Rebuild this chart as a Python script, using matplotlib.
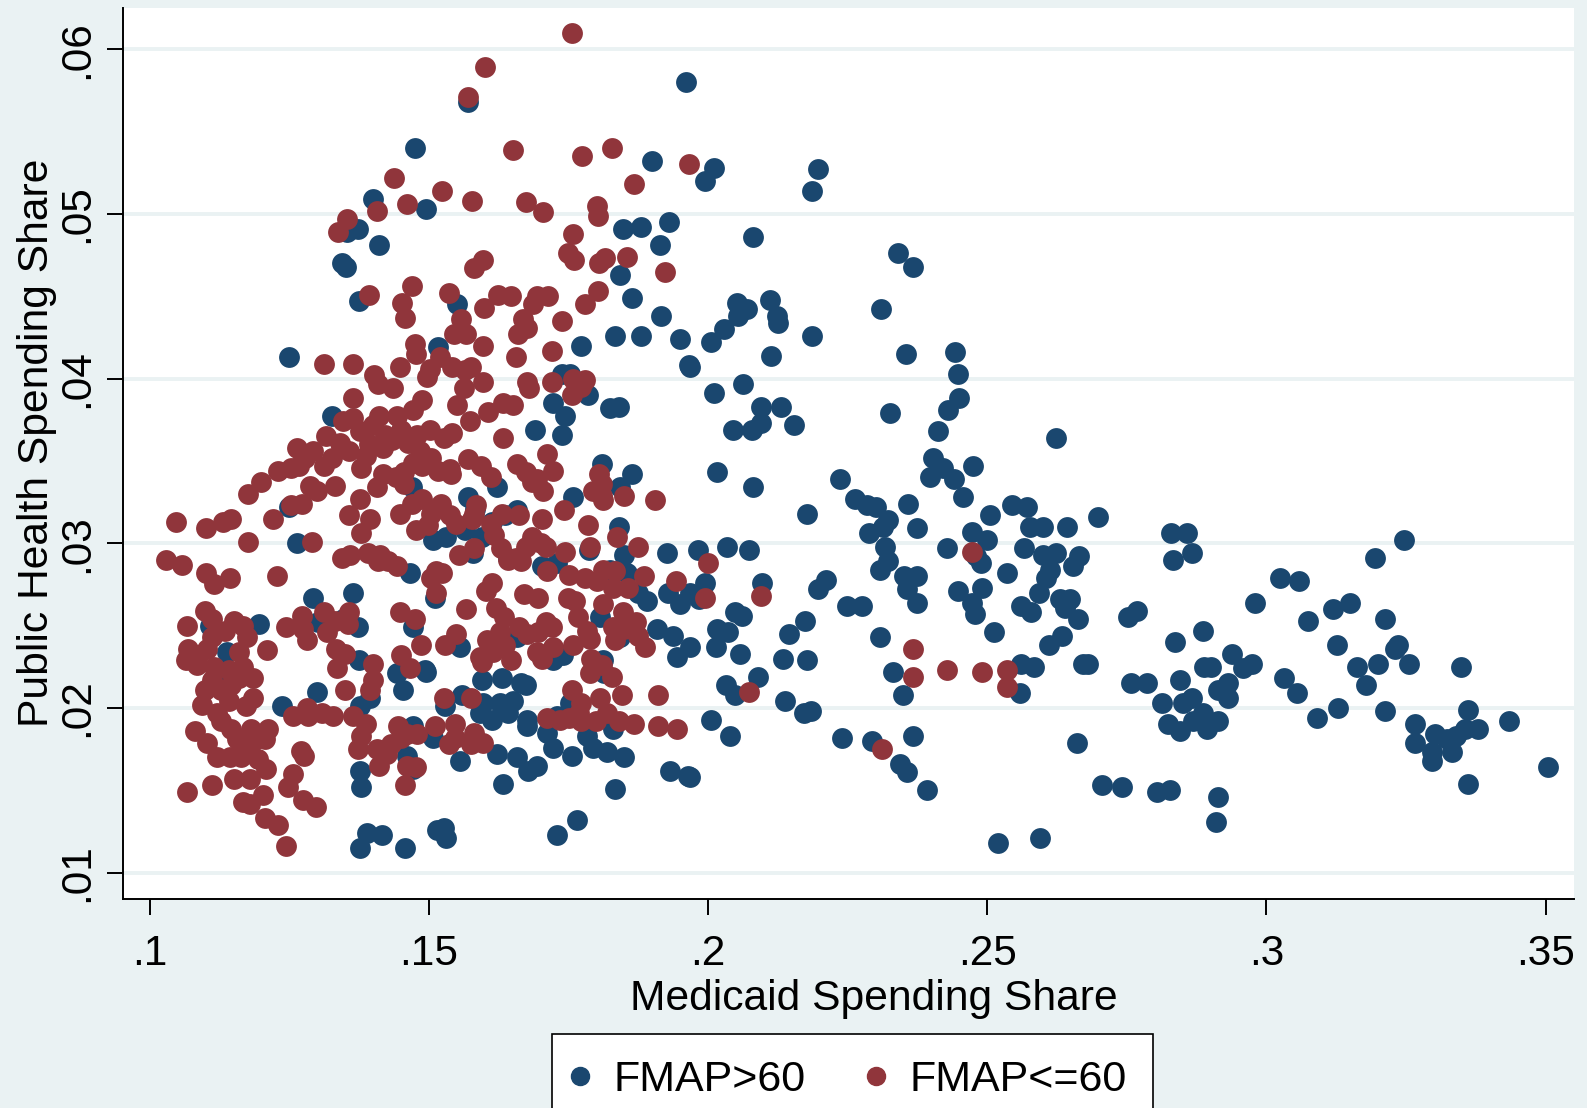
import numpy as np
import matplotlib
matplotlib.use('Agg')
import matplotlib.pyplot as plt
from matplotlib.lines import Line2D

# (medicaid share, public health share)
fmap_high = [
    (0.196, 0.0580), (0.157, 0.0568), (0.1475, 0.0540), (0.1495, 0.0503), (0.1400, 0.0509),
    (0.1410, 0.0481), (0.1354, 0.0489), (0.1373, 0.0491), (0.1344, 0.0470), (0.1352, 0.0468),
    (0.1374, 0.0447), (0.1899, 0.0532), (0.2010, 0.0528), (0.1995, 0.0520), (0.2197, 0.0527),
    (0.2186, 0.0514), (0.1847, 0.0491), (0.1880, 0.0492), (0.1930, 0.0495), (0.1914, 0.0481),
    (0.2080, 0.0486), (0.1843, 0.0463), (0.1863, 0.0449), (0.1916, 0.0438), (0.1834, 0.0426),
    (0.1880, 0.0426), (0.1950, 0.0424), (0.1965, 0.0408), (0.2028, 0.0430), (0.2006, 0.0422),
    (0.2051, 0.0446), (0.2069, 0.0442), (0.2053, 0.0438), (0.2110, 0.0448), (0.2124, 0.0438),
    (0.2126, 0.0434), (0.2113, 0.0414), (0.2186, 0.0426), (0.1968, 0.0407), (0.2011, 0.0391),
    (0.2062, 0.0397), (0.2095, 0.0383), (0.2130, 0.0383), (0.2044, 0.0369), (0.2079, 0.0369),
    (0.2095, 0.0373), (0.2153, 0.0372), (0.2015, 0.0343), (0.2080, 0.0334), (0.2340, 0.0476),
    (0.2367, 0.0468), (0.2309, 0.0442), (0.2354, 0.0415), (0.2325, 0.0379), (0.2443, 0.0416),
    (0.2448, 0.0403), (0.2450, 0.0388), (0.2430, 0.0381), (0.2412, 0.0368), (0.2403, 0.0352),
    (0.2421, 0.0346), (0.2398, 0.0340), (0.2440, 0.0339), (0.2456, 0.0328), (0.2474, 0.0347),
    (0.2624, 0.0364), (0.2236, 0.0339), (0.2263, 0.0327), (0.2284, 0.0323), (0.2301, 0.0322),
    (0.2323, 0.0314), (0.2358, 0.0324), (0.2177, 0.0318), (0.2289, 0.0306), (0.2313, 0.0310),
    (0.2374, 0.0309), (0.2316, 0.0298), (0.2323, 0.0289), (0.2307, 0.0284), (0.2350, 0.0280),
    (0.2374, 0.0280), (0.2357, 0.0272), (0.2374, 0.0264), (0.2427, 0.0297), (0.2472, 0.0307),
    (0.2499, 0.0302), (0.2505, 0.0317), (0.2480, 0.0292), (0.2488, 0.0288), (0.2490, 0.0273),
    (0.2447, 0.0271), (0.2472, 0.0264), (0.2478, 0.0257), (0.2536, 0.0282), (0.2512, 0.0246),
    (0.2545, 0.0323), (0.2572, 0.0322), (0.2577, 0.0310), (0.2599, 0.0310), (0.2643, 0.0310),
    (0.2565, 0.0297), (0.2599, 0.0293), (0.2624, 0.0294), (0.2664, 0.0292), (0.2653, 0.0286),
    (0.2612, 0.0284), (0.2606, 0.0279), (0.2592, 0.0270), (0.2561, 0.0262), (0.2579, 0.0258),
    (0.2630, 0.0266), (0.2648, 0.0266), (0.2639, 0.0261), (0.2663, 0.0254), (0.2610, 0.0238),
    (0.2634, 0.0244), (0.2561, 0.0227), (0.2584, 0.0225), (0.2559, 0.0209), (0.2672, 0.0227),
    (0.2680, 0.0227), (0.2661, 0.0179), (0.2699, 0.0316), (0.2706, 0.0153), (0.2741, 0.0152),
    (0.2753, 0.0255), (0.2768, 0.0259), (0.2757, 0.0215), (0.2786, 0.0215), (0.2804, 0.0149),
    (0.2827, 0.0150), (0.2829, 0.0306), (0.2857, 0.0306), (0.2867, 0.0294), (0.2833, 0.0290),
    (0.2836, 0.0240), (0.2887, 0.0247), (0.2813, 0.0203), (0.2824, 0.0190), (0.2846, 0.0186),
    (0.2869, 0.0192), (0.2894, 0.0187), (0.2913, 0.0192), (0.2887, 0.0197), (0.2851, 0.0203),
    (0.2867, 0.0206), (0.2913, 0.0211), (0.2931, 0.0206), (0.2846, 0.0217), (0.2900, 0.0225),
    (0.2888, 0.0225), (0.2931, 0.0215), (0.2938, 0.0233), (0.2958, 0.0224), (0.2974, 0.0227),
    (0.2913, 0.0146), (0.2910, 0.0131), (0.2980, 0.0264), (0.3024, 0.0279), (0.3058, 0.0277),
    (0.3031, 0.0218), (0.3055, 0.0209), (0.3090, 0.0194), (0.3074, 0.0253), (0.3119, 0.0260),
    (0.3150, 0.0264), (0.3127, 0.0238), (0.3163, 0.0225), (0.3178, 0.0214), (0.3129, 0.0200),
    (0.3194, 0.0291), (0.3246, 0.0302), (0.3213, 0.0254), (0.3230, 0.0236), (0.3235, 0.0238),
    (0.3200, 0.0227), (0.3255, 0.0227), (0.3213, 0.0198), (0.3266, 0.0190), (0.3266, 0.0179),
    (0.3302, 0.0184), (0.3297, 0.0173), (0.3297, 0.0168), (0.3324, 0.0181), (0.3340, 0.0183),
    (0.3333, 0.0173), (0.3355, 0.0187), (0.3348, 0.0225), (0.3362, 0.0199), (0.3379, 0.0187),
    (0.3362, 0.0154), (0.3434, 0.0192), (0.3504, 0.0164),
    (0.1250, 0.0413), (0.1326, 0.0377), (0.1263, 0.0300), (0.1250, 0.0322), (0.1196, 0.0251),
    (0.1292, 0.0267), (0.1301, 0.0252), (0.1300, 0.0210), (0.1237, 0.0201), (0.1364, 0.0270),
    (0.1346, 0.0254), (0.1373, 0.0249), (0.1375, 0.0229), (0.1108, 0.0250), (0.1138, 0.0234),
    (0.1134, 0.0223), (0.1377, 0.0201), (0.1395, 0.0206), (0.1466, 0.0282), (0.1511, 0.0267),
    (0.1472, 0.0249), (0.1493, 0.0223), (0.1442, 0.0221), (0.1453, 0.0211), (0.1472, 0.0189),
    (0.1508, 0.0182), (0.1460, 0.0171), (0.1472, 0.0163), (0.1377, 0.0162), (0.1379, 0.0152),
    (0.1389, 0.0124), (0.1416, 0.0123), (0.1377, 0.0115), (0.1457, 0.0115), (0.1515, 0.0126),
    (0.1526, 0.0127), (0.1531, 0.0121), (0.1469, 0.0334), (0.1507, 0.0302), (0.1517, 0.0419),
    (0.1551, 0.0445), (0.1773, 0.0420), (0.1738, 0.0403), (0.1752, 0.0403), (0.1785, 0.0390),
    (0.1723, 0.0385), (0.1743, 0.0377), (0.1738, 0.0366), (0.1690, 0.0369), (0.1825, 0.0382),
    (0.1841, 0.0383), (0.1810, 0.0348), (0.1863, 0.0342), (0.1843, 0.0334), (0.1758, 0.0328),
    (0.1622, 0.0334), (0.1569, 0.0328), (0.1582, 0.0321), (0.1658, 0.0320), (0.1636, 0.0317),
    (0.1613, 0.0313), (0.1530, 0.0304), (0.1595, 0.0304), (0.1564, 0.0308), (0.1578, 0.0294),
    (0.1786, 0.0296), (0.1840, 0.0310), (0.1849, 0.0293), (0.1825, 0.0284), (0.1854, 0.0282),
    (0.1874, 0.0270), (0.1890, 0.0265), (0.1806, 0.0255), (0.1843, 0.0243), (0.1908, 0.0248),
    (0.1937, 0.0244), (0.1944, 0.0231), (0.1928, 0.0270), (0.1950, 0.0263), (0.1926, 0.0294),
    (0.1981, 0.0296), (0.2033, 0.0298), (0.2073, 0.0296), (0.1995, 0.0276), (0.2097, 0.0276),
    (0.1984, 0.0266), (0.1968, 0.0270), (0.2048, 0.0258), (0.2061, 0.0256), (0.2015, 0.0248),
    (0.2035, 0.0246), (0.2014, 0.0237), (0.2057, 0.0233), (0.1968, 0.0237), (0.2089, 0.0219),
    (0.2032, 0.0214), (0.2048, 0.0208), (0.2006, 0.0193), (0.2039, 0.0183), (0.1968, 0.0158),
    (0.2144, 0.0245), (0.2173, 0.0253), (0.2135, 0.0230), (0.2177, 0.0229), (0.2138, 0.0204),
    (0.2171, 0.0197), (0.2184, 0.0198), (0.2211, 0.0278), (0.2197, 0.0272), (0.2249, 0.0262),
    (0.2276, 0.0262), (0.2240, 0.0182), (0.2294, 0.0180), (0.2367, 0.0183), (0.2343, 0.0166),
    (0.2356, 0.0161), (0.2392, 0.0150), (0.2519, 0.0118), (0.2595, 0.0121), (0.2307, 0.0243),
    (0.2331, 0.0222), (0.2349, 0.0208), (0.1729, 0.0288), (0.1702, 0.0286), (0.1642, 0.0291),
    (0.1658, 0.0243), (0.1722, 0.0229), (0.1740, 0.0232), (0.1812, 0.0229), (0.1814, 0.0221),
    (0.1555, 0.0237), (0.1495, 0.0222), (0.1560, 0.0208), (0.1595, 0.0217), (0.1631, 0.0218),
    (0.1664, 0.0215), (0.1674, 0.0214), (0.1597, 0.0203), (0.1627, 0.0203), (0.1651, 0.0204),
    (0.1591, 0.0197), (0.1613, 0.0193), (0.1642, 0.0197), (0.1675, 0.0193), (0.1675, 0.0189),
    (0.1712, 0.0185), (0.1722, 0.0176), (0.1756, 0.0171), (0.1794, 0.0176), (0.1818, 0.0173),
    (0.1849, 0.0170), (0.1830, 0.0187), (0.1729, 0.0195), (0.1783, 0.0183), (0.1752, 0.0203),
    (0.1529, 0.0201), (0.1555, 0.0168), (0.1622, 0.0172), (0.1658, 0.0170), (0.1693, 0.0165),
    (0.1678, 0.0162), (0.1633, 0.0154), (0.1834, 0.0151), (0.1932, 0.0162), (0.1964, 0.0159),
    (0.1765, 0.0132), (0.1729, 0.0123),
]

fmap_low = [
    (0.1756, 0.0610), (0.1600, 0.0589), (0.1570, 0.0571), (0.1651, 0.0539), (0.1774, 0.0535),
    (0.1827, 0.0540), (0.1966, 0.0530), (0.1868, 0.0518), (0.1437, 0.0522), (0.1524, 0.0514),
    (0.1577, 0.0508), (0.1460, 0.0506), (0.1406, 0.0502), (0.1674, 0.0507), (0.1705, 0.0501),
    (0.1801, 0.0505), (0.1803, 0.0499), (0.1354, 0.0497), (0.1337, 0.0489), (0.1758, 0.0488),
    (0.1749, 0.0476), (0.1760, 0.0472), (0.1805, 0.0470), (0.1816, 0.0473), (0.1854, 0.0474),
    (0.1596, 0.0472), (0.1580, 0.0467), (0.1923, 0.0465), (0.1803, 0.0453), (0.1780, 0.0445),
    (0.1393, 0.0451), (0.1470, 0.0456), (0.1451, 0.0446), (0.1457, 0.0437), (0.1535, 0.0452),
    (0.1598, 0.0443), (0.1624, 0.0451), (0.1647, 0.0450), (0.1693, 0.0450), (0.1714, 0.0450),
    (0.1687, 0.0445), (0.1669, 0.0436), (0.1676, 0.0431), (0.1660, 0.0427), (0.1738, 0.0435),
    (0.1720, 0.0417), (0.1558, 0.0436), (0.1567, 0.0427), (0.1545, 0.0427), (0.1475, 0.0421),
    (0.1477, 0.0415), (0.1596, 0.0420), (0.1520, 0.0413), (0.1656, 0.0413), (0.1312, 0.0409),
    (0.1363, 0.0409), (0.1401, 0.0402), (0.1408, 0.0397), (0.1448, 0.0407), (0.1435, 0.0394),
    (0.1497, 0.0401), (0.1502, 0.0406), (0.1542, 0.0407), (0.1564, 0.0405), (0.1576, 0.0407),
    (0.1596, 0.0398), (0.1562, 0.0394), (0.1676, 0.0398), (0.1680, 0.0394), (0.1632, 0.0385),
    (0.1650, 0.0384), (0.1720, 0.0398), (0.1758, 0.0400), (0.1772, 0.0395), (0.1780, 0.0399),
    (0.1756, 0.0390), (0.1605, 0.0380), (0.1551, 0.0384), (0.1471, 0.0381), (0.1488, 0.0387),
    (0.1364, 0.0388), (0.1346, 0.0374), (0.1364, 0.0376), (0.1377, 0.0368), (0.1399, 0.0372),
    (0.1410, 0.0377), (0.1421, 0.0366), (0.1442, 0.0377), (0.1449, 0.0369), (0.1393, 0.0360),
    (0.1417, 0.0358), (0.1433, 0.0363), (0.1462, 0.0361), (0.1479, 0.0366), (0.1484, 0.0356),
    (0.1502, 0.0369), (0.1526, 0.0364), (0.1542, 0.0367), (0.1573, 0.0374), (0.1633, 0.0364),
    (0.1315, 0.0365), (0.1341, 0.0361), (0.1357, 0.0356), (0.1292, 0.0356), (0.1277, 0.0352),
    (0.1263, 0.0358), (0.1268, 0.0347), (0.1252, 0.0346), (0.1230, 0.0344), (0.1252, 0.0323),
    (0.1272, 0.0324), (0.1199, 0.0337), (0.1176, 0.0330), (0.1312, 0.0347), (0.1326, 0.0352),
    (0.1379, 0.0346), (0.1388, 0.0353), (0.1417, 0.0342), (0.1440, 0.0340), (0.1455, 0.0343),
    (0.1455, 0.0336), (0.1471, 0.0349), (0.1488, 0.0347), (0.1504, 0.0352), (0.1517, 0.0344),
    (0.1538, 0.0345), (0.1569, 0.0351), (0.1593, 0.0347), (0.1611, 0.0340), (0.1658, 0.0348),
    (0.1673, 0.0343), (0.1712, 0.0354), (0.1722, 0.0344), (0.1684, 0.0337), (0.1705, 0.0332),
    (0.1805, 0.0342), (0.1810, 0.0336), (0.1286, 0.0335), (0.1299, 0.0332), (0.1332, 0.0335),
    (0.1377, 0.0327), (0.1406, 0.0334), (0.1357, 0.0317), (0.1395, 0.0315), (0.1448, 0.0318),
    (0.1470, 0.0324), (0.1488, 0.0327), (0.1522, 0.0324), (0.1504, 0.0318), (0.1548, 0.0312),
    (0.1584, 0.0323), (0.1580, 0.0318), (0.1611, 0.0312), (0.1631, 0.0318), (0.1662, 0.0317),
    (0.1702, 0.0315), (0.1742, 0.0320), (0.1785, 0.0311), (0.1850, 0.0329), (0.1905, 0.0326),
    (0.1809, 0.0329), (0.1794, 0.0332), (0.1812, 0.0326), (0.1499, 0.0311), (0.1477, 0.0308),
    (0.1379, 0.0306), (0.1221, 0.0315), (0.1176, 0.0301), (0.1145, 0.0315), (0.1131, 0.0313),
    (0.1100, 0.0309), (0.1047, 0.0313), (0.1029, 0.0290), (0.1058, 0.0287), (0.1100, 0.0282),
    (0.1114, 0.0275), (0.1143, 0.0279), (0.1228, 0.0280), (0.1290, 0.0301), (0.1344, 0.0291),
    (0.1359, 0.0293), (0.1391, 0.0294), (0.1413, 0.0293), (0.1408, 0.0289), (0.1426, 0.0289),
    (0.1442, 0.0286), (0.1513, 0.0283), (0.1524, 0.0282), (0.1504, 0.0279), (0.1553, 0.0293),
    (0.1580, 0.0297), (0.1616, 0.0305), (0.1629, 0.0297), (0.1613, 0.0276), (0.1602, 0.0271),
    (0.1567, 0.0260), (0.1620, 0.0261), (0.1634, 0.0255), (0.1674, 0.0298), (0.1684, 0.0304),
    (0.1700, 0.0300), (0.1665, 0.0289), (0.1656, 0.0291), (0.1712, 0.0283), (0.1750, 0.0281),
    (0.1780, 0.0279), (0.1801, 0.0277), (0.1671, 0.0269), (0.1696, 0.0267), (0.1720, 0.0249),
    (0.1744, 0.0295), (0.1749, 0.0267), (0.1762, 0.0265), (0.1789, 0.0298), (0.1812, 0.0284),
    (0.1812, 0.0263), (0.1829, 0.0273), (0.1836, 0.0304), (0.1834, 0.0283), (0.1885, 0.0280),
    (0.1943, 0.0277), (0.1999, 0.0288), (0.1995, 0.0267), (0.2095, 0.0268), (0.1874, 0.0298),
    (0.1847, 0.0258), (0.1829, 0.0249), (0.1850, 0.0248), (0.1870, 0.0252), (0.1874, 0.0244),
    (0.1834, 0.0241), (0.1887, 0.0237), (0.1783, 0.0247), (0.1789, 0.0242), (0.1758, 0.0238),
    (0.1723, 0.0237), (0.1791, 0.0230), (0.1809, 0.0226), (0.1827, 0.0219), (0.1756, 0.0211),
    (0.1807, 0.0206), (0.1818, 0.0197), (0.1800, 0.0192), (0.1840, 0.0192), (0.1868, 0.0190),
    (0.1845, 0.0208), (0.1910, 0.0208), (0.1910, 0.0189), (0.1945, 0.0187), (0.2074, 0.0210),
    (0.1769, 0.0197), (0.1750, 0.0194), (0.1773, 0.0192), (0.1711, 0.0194), (0.1702, 0.0230),
    (0.1693, 0.0234), (0.1647, 0.0229), (0.1595, 0.0228), (0.1615, 0.0234), (0.1636, 0.0238),
    (0.1627, 0.0246), (0.1604, 0.0241), (0.1662, 0.0249), (0.1676, 0.0245), (0.1576, 0.0206),
    (0.1526, 0.0206), (0.1511, 0.0189), (0.1547, 0.0182), (0.1575, 0.0178), (0.1535, 0.0178),
    (0.1580, 0.0185), (0.1548, 0.0245), (0.1528, 0.0238), (0.1475, 0.0254), (0.1448, 0.0258),
    (0.1486, 0.0238), (0.1450, 0.0232), (0.1466, 0.0224), (0.1444, 0.0189), (0.1460, 0.0184),
    (0.1478, 0.0184), (0.1449, 0.0182), (0.1460, 0.0165), (0.1457, 0.0153), (0.1477, 0.0164),
    (0.1399, 0.0227), (0.1399, 0.0217), (0.1395, 0.0211), (0.1350, 0.0233), (0.1335, 0.0224),
    (0.1333, 0.0236), (0.1350, 0.0211), (0.1364, 0.0195), (0.1328, 0.0195), (0.1308, 0.0197),
    (0.1283, 0.0195), (0.1257, 0.0195), (0.1281, 0.0200), (0.1272, 0.0256), (0.1274, 0.0248),
    (0.1281, 0.0241), (0.1312, 0.0258), (0.1317, 0.0246), (0.1332, 0.0253), (0.1357, 0.0258),
    (0.1355, 0.0251), (0.1243, 0.0249), (0.1373, 0.0175), (0.1406, 0.0175), (0.1424, 0.0172),
    (0.1411, 0.0165), (0.1379, 0.0183), (0.1388, 0.0190), (0.1432, 0.0178), (0.1276, 0.0171),
    (0.1270, 0.0174), (0.1274, 0.0144), (0.1297, 0.0140), (0.1257, 0.0160), (0.1248, 0.0152),
    (0.1207, 0.0133), (0.1230, 0.0129), (0.1243, 0.0116), (0.1203, 0.0147), (0.1180, 0.0142),
    (0.1167, 0.0143), (0.1208, 0.0163), (0.1180, 0.0157), (0.1150, 0.0157), (0.1163, 0.0170),
    (0.1143, 0.0170), (0.1121, 0.0170), (0.1194, 0.0169), (0.1111, 0.0153), (0.1067, 0.0149),
    (0.1156, 0.0181), (0.1181, 0.0178), (0.1207, 0.0181), (0.1212, 0.0187), (0.1181, 0.0187),
    (0.1145, 0.0187), (0.1103, 0.0179), (0.1080, 0.0186), (0.1094, 0.0202), (0.1121, 0.0197),
    (0.1127, 0.0192), (0.1141, 0.0204), (0.1172, 0.0201), (0.1185, 0.0206), (0.1127, 0.0211),
    (0.1098, 0.0211), (0.1112, 0.0217), (0.1145, 0.0214), (0.1160, 0.0218), (0.1141, 0.0223),
    (0.1167, 0.0225), (0.1185, 0.0218), (0.1114, 0.0225), (0.1085, 0.0226), (0.1065, 0.0229),
    (0.1087, 0.0232), (0.1103, 0.0236), (0.1069, 0.0236), (0.1111, 0.0243), (0.1134, 0.0247),
    (0.1112, 0.0254), (0.1098, 0.0259), (0.1150, 0.0253), (0.1167, 0.0250), (0.1174, 0.0243),
    (0.1067, 0.0250), (0.1160, 0.0234), (0.1210, 0.0235),
    (0.2472, 0.0295), (0.2367, 0.0236), (0.2367, 0.0219), (0.2427, 0.0223), (0.2490, 0.0222),
    (0.2536, 0.0223), (0.2536, 0.0213), (0.2311, 0.0175),
    (0.1540, 0.0342), (0.1693, 0.0339), (0.1856, 0.0273), (0.1767, 0.0255), (0.1710, 0.0298),
    (0.1642, 0.0290), (0.1577, 0.0315), (0.1537, 0.0317), (0.1513, 0.0270), (0.1591, 0.0231),
    (0.1696, 0.0246), (0.1710, 0.0252), (0.1789, 0.0221), (0.1773, 0.0203), (0.1734, 0.0193),
    (0.1546, 0.0190), (0.1597, 0.0179),
]

x_ticks = [0.10, 0.15, 0.20, 0.25, 0.30, 0.35]
x_labels = ['.1', '.15', '.2', '.25', '.3', '.35']
y_ticks = [0.01, 0.02, 0.03, 0.04, 0.05, 0.06]
y_labels = ['.01', '.02', '.03', '.04', '.05', '.06']
groups = ['FMAP>60', 'FMAP<=60']

navy = '#1a476f'
maroon = '#90353b'
bg = '#eaf2f3'

plt.rcParams['font.family'] = ['Liberation Sans', 'DejaVu Sans']

fig = plt.figure(figsize=(15.87, 11.08), dpi=100)
fig.patch.set_facecolor(bg)
ax = fig.add_axes([0.0772, 0.1886, 0.9146, 0.8042])
ax.set_facecolor('white')

hi = np.array(fmap_high)
lo = np.array(fmap_low)
ax.scatter(hi[:, 0], hi[:, 1], s=225, color=navy, linewidths=0, zorder=3)
ax.scatter(lo[:, 0], lo[:, 1], s=225, color=maroon, linewidths=0, zorder=4)

ax.set_xlim(0.0951, 0.3551)
ax.set_ylim(0.0084, 0.0625)
ax.set_xticks(x_ticks)
ax.set_xticklabels(x_labels)
ax.set_yticks(y_ticks)
ax.set_yticklabels(y_labels, rotation=90, va='center')

for y in y_ticks:
    ax.axhline(y, color=bg, lw=2.8, zorder=1)

for s in ['top', 'right']:
    ax.spines[s].set_visible(False)
for s in ['left', 'bottom']:
    ax.spines[s].set_linewidth(1.4)
    ax.spines[s].set_color('black')

ax.tick_params(axis='both', length=11.5, width=1.4, labelsize=30.5)
ax.tick_params(axis='y', pad=7)
ax.tick_params(axis='x', pad=14)

ax.set_xlabel('Medicaid Spending Share', fontsize=30.7, labelpad=3)
ax.set_ylabel('Public Health Spending Share', fontsize=30.7, labelpad=0)
ax.xaxis.label.set_x(0.5174)
ax.yaxis.label.set_y(0.5125)

handles = [Line2D([], [], marker='o', ls='', color=navy, markersize=13),
           Line2D([], [], marker='o', ls='', color=maroon, markersize=13)]
leg = fig.legend(handles, groups, ncol=2, loc='upper left',
                 bbox_to_anchor=(0.3476, 0.0668), borderaxespad=0,
                 fontsize=31, frameon=True, fancybox=False, framealpha=1,
                 edgecolor='black', facecolor='white', borderpad=0.6,
                 handlelength=0.1, handletextpad=0.74, columnspacing=1.58)
leg.get_frame().set_linewidth(1.2)

fig.savefig('out.png', dpi=100, facecolor=bg)
